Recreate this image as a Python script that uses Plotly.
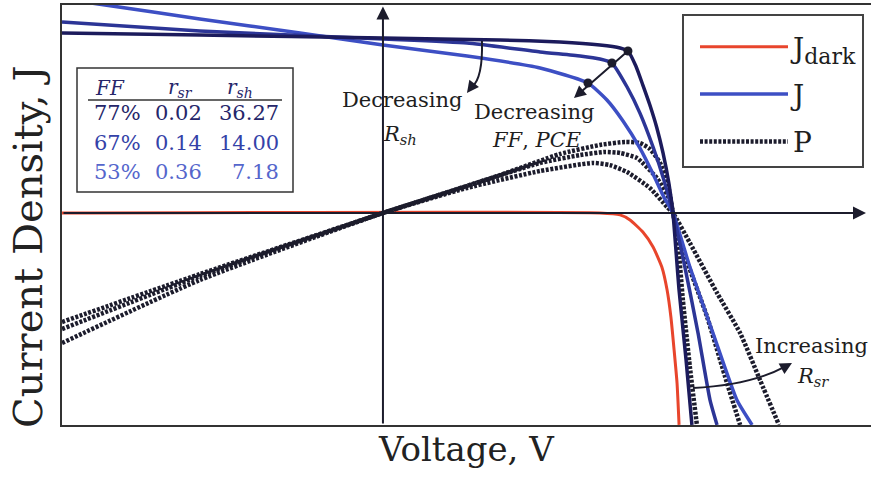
import plotly.graph_objects as go

# Normalised units: voltage V / Voc, current density J / Jsc (power P on same vertical scale)
v_dark = [-1.099, 0.743, 0.812, 0.846, 0.890, 0.925, 0.955, 0.973, 0.986, 0.997, 1.007, 1.014]
j_dark = [0.0, 0.0, -0.011, -0.040, -0.109, -0.194, -0.309, -0.440, -0.594, -0.783, -0.971, -1.211]

v_j77 = [-1.099, -0.627, 0.0, 0.401, 0.606, 0.743, 0.812, 0.839, 0.866, 0.890, 0.914, 0.938, 0.959, 0.979, 0.993, 1.014, 1.038, 1.058]
j_j77 = [1.029, 1.017, 1.000, 0.989, 0.977, 0.960, 0.943, 0.926, 0.840, 0.731, 0.617, 0.486, 0.343, 0.171, 0.0, -0.440, -0.840, -1.211]

v_j67 = [-1.099, -0.627, 0.0, 0.288, 0.538, 0.675, 0.743, 0.784, 0.836, 0.880, 0.925, 0.962, 0.993, 1.034, 1.079, 1.120, 1.144]
j_j67 = [1.091, 1.040, 0.994, 0.971, 0.920, 0.897, 0.880, 0.857, 0.720, 0.571, 0.377, 0.189, 0.0, -0.309, -0.686, -1.069, -1.211]

v_j53 = [-1.099, -0.952, -0.627, -0.284, 0.0, 0.288, 0.538, 0.702, 0.767, 0.822, 0.880, 0.925, 0.962, 0.993, 1.051, 1.130, 1.212, 1.264]
j_j53 = [1.223, 1.189, 1.109, 1.029, 0.960, 0.897, 0.829, 0.743, 0.646, 0.526, 0.371, 0.223, 0.091, 0.0, -0.309, -0.686, -1.069, -1.211]

v_p77 = [-1.099, -0.627, 0.0, 0.401, 0.606, 0.743, 0.829, 0.880, 0.914, 0.949, 0.976, 0.993, 1.007, 1.027, 1.051, 1.075]
p_p77 = [-0.623, -0.349, 0.0, 0.217, 0.337, 0.389, 0.406, 0.400, 0.366, 0.286, 0.160, 0.0, -0.114, -0.497, -0.880, -1.211]

v_p67 = [-1.099, -0.627, 0.0, 0.288, 0.538, 0.675, 0.760, 0.812, 0.870, 0.938, 0.983, 0.993, 1.027, 1.110, 1.178, 1.223]
p_p67 = [-0.663, -0.360, 0.0, 0.154, 0.286, 0.331, 0.349, 0.343, 0.314, 0.200, 0.074, 0.0, -0.211, -0.594, -0.971, -1.211]

v_p53 = [-1.099, -0.627, 0.0, 0.288, 0.538, 0.719, 0.777, 0.836, 0.914, 0.973, 0.993, 1.051, 1.144, 1.223, 1.291, 1.356]
p_p53 = [-0.743, -0.383, 0.0, 0.143, 0.240, 0.286, 0.274, 0.234, 0.143, 0.034, 0.0, -0.171, -0.457, -0.686, -0.954, -1.211]

# maximum power points
v_mpp = [0.839, 0.784, 0.702]
j_mpp = [0.926, 0.857, 0.743]

# inset table
ff_vals = ["77%", "67%", "53%"]
rsr_vals = ["0.02", "0.14", "0.36"]
rsh_vals = ["36.27", "14.00", "7.18"]
row_colors = ["#26266a", "#3442a8", "#5566cc"]

X_RANGE = [-1.099, 1.6712]
Y_RANGE = [-1.2114, 1.1886]

SERIF = "DejaVu Serif"
INK = "#1c1c2c"
C_DARK = "#e8452c"
C_77 = "#1c1b5c"
C_67 = "#2c3596"
C_53 = "#3d4fc4"
P_DASH = "3px,1.6px"

fig = go.Figure()
line_shape = dict(shape="spline", smoothing=0.5)

fig.add_trace(go.Scatter(x=v_dark, y=j_dark, mode="lines",
                         name="J<sub><span style='font-size:22px'>dark</span></sub>",
                         line=dict(color=C_DARK, width=3, **line_shape),
                         legendgroup="a", legendrank=1))
fig.add_trace(go.Scatter(x=v_p77, y=p_p77, mode="lines", name="P",
                         line=dict(color=INK, width=4.5, dash=P_DASH, **line_shape),
                         legendgroup="c", legendrank=3))
fig.add_trace(go.Scatter(x=v_p67, y=p_p67, mode="lines", showlegend=False,
                         line=dict(color=INK, width=4.5, dash=P_DASH, **line_shape)))
fig.add_trace(go.Scatter(x=v_p53, y=p_p53, mode="lines", showlegend=False,
                         line=dict(color=INK, width=4.5, dash=P_DASH, **line_shape)))
fig.add_trace(go.Scatter(x=v_j53, y=j_j53, mode="lines", name="J",
                         line=dict(color=C_53, width=3.5, **line_shape),
                         legendgroup="b", legendrank=2))
fig.add_trace(go.Scatter(x=v_j67, y=j_j67, mode="lines", showlegend=False,
                         line=dict(color=C_67, width=3.5, **line_shape)))
fig.add_trace(go.Scatter(x=v_j77, y=j_j77, mode="lines", showlegend=False,
                         line=dict(color=C_77, width=3.5, **line_shape)))
fig.add_trace(go.Scatter(x=v_mpp, y=j_mpp, mode="markers", showlegend=False,
                         marker=dict(color=INK, size=9)))


def vx(p):
    return (p - 383) / 292


def jy(p):
    return (213 - p) / 175


ann = []
# axes arrows
ann.append(dict(x=0, y=1.18, ax=0, ay=Y_RANGE[0], xref="x", yref="y", axref="x", ayref="y",
                text="", showarrow=True, arrowhead=2, arrowsize=1.3, arrowwidth=2, arrowcolor=INK))
ann.append(dict(x=1.654, y=0, ax=X_RANGE[0], ay=0, xref="x", yref="y", axref="x", ayref="y",
                text="", showarrow=True, arrowhead=2, arrowsize=1.3, arrowwidth=2, arrowcolor=INK))
# straight FF/PCE arrow through the maximum power points
ann.append(dict(x=vx(574), y=jy(98), ax=v_mpp[0], ay=j_mpp[0], xref="x", yref="y", axref="x", ayref="y",
                text="", showarrow=True, arrowhead=2, arrowsize=1.2, arrowwidth=2, arrowcolor=INK))
# heads of the curved arrows (pixel offsets for tails)
ann.append(dict(x=vx(467), y=jy(93), ax=6, ay=-8, xref="x", yref="y",
                text="", showarrow=True, arrowhead=2, arrowsize=1.2, arrowwidth=2, arrowcolor=INK))
ann.append(dict(x=vx(792), y=jy(363), ax=-9, ay=5, xref="x", yref="y",
                text="", showarrow=True, arrowhead=2, arrowsize=1.2, arrowwidth=2, arrowcolor=INK))


def txt(x, y, s, size, xanchor="center", color="#1e1e1e", xref="x", yref="y", angle=0):
    return dict(x=x, y=y, xref=xref, yref=yref, text=s, showarrow=False, xanchor=xanchor,
                yanchor="middle", textangle=angle, font=dict(family=SERIF, size=size, color=color))


ann.append(txt(vx(402), jy(100), "Decreasing", 21))
ann.append(txt(vx(400), jy(135), "<i>R</i><sub><i>sh</i></sub>", 21))
ann.append(txt(vx(534), jy(112), "Decreasing", 21))
ann.append(txt(vx(537), jy(140), "<i>FF</i>, <i>PCE</i>", 21))
ann.append(txt(vx(811), jy(346), "Increasing", 21))
ann.append(txt(vx(813), jy(377), "<i>R</i><sub><i>sr</i></sub>", 21))

# axis titles
ann.append(txt(0.5, -0.057, "Voltage, V", 34, xref="paper", yref="paper", color="#222222"))
ann.append(txt(-0.042, 0.424, "Current Density, J", 40, xref="paper", yref="paper",
               color="#222222", angle=-90))


# inset table (paper coords)
def px(xp):
    return (xp - 62) / 809


def py(yp):
    return (425 - yp) / 420


head_y = py(88)
ann.append(txt(px(110), head_y, "<i>FF</i>", 20, xref="paper", yref="paper", color=row_colors[0]))
ann.append(txt(px(180), head_y, "<i>r</i><sub><i>sr</i></sub>", 20, xref="paper", yref="paper", color=row_colors[0]))
ann.append(txt(px(240), head_y, "<i>r</i><sub><i>sh</i></sub>", 20, xref="paper", yref="paper", color=row_colors[0]))
row_y = [113, 143, 172]
for i in range(3):
    ann.append(txt(px(92), py(row_y[i]), ff_vals[i], 21, xanchor="left", xref="paper", yref="paper", color=row_colors[i]))
    ann.append(txt(px(178), py(row_y[i]), rsr_vals[i], 21, xref="paper", yref="paper", color=row_colors[i]))
    ann.append(txt(px(281), py(row_y[i]), rsh_vals[i], 21, xanchor="right", xref="paper", yref="paper", color=row_colors[i]))

shapes = [
    dict(type="rect", xref="paper", yref="paper", x0=px(77), x1=px(293), y0=py(192), y1=py(68),
         line=dict(color="#333333", width=1.5), fillcolor="white", layer="below"),
    dict(type="line", xref="paper", yref="paper", x0=px(88), x1=px(282), y0=py(100), y1=py(100),
         line=dict(color="#333333", width=1.5)),
    dict(type="rect", xref="paper", yref="paper", x0=px(683), x1=px(863), y0=py(167), y1=py(15),
         line=dict(color="#444444", width=2), fillcolor="white", layer="below"),
    # curved arrow shafts
    dict(type="path", xref="x", yref="y",
         path=f"M {vx(482)},{jy(41)} Q {vx(483)},{jy(78)} {vx(472)},{jy(87)}",
         line=dict(color=INK, width=2)),
    dict(type="path", xref="x", yref="y",
         path=f"M {vx(693)},{jy(388)} Q {vx(751)},{jy(385)} {vx(784)},{jy(367)}",
         line=dict(color=INK, width=2)),
]

fig.update_layout(
    width=871, height=477,
    margin=dict(l=62, r=0, t=5, b=52),
    paper_bgcolor="white", plot_bgcolor="rgba(0,0,0,0)",
    xaxis=dict(range=X_RANGE, showgrid=False, zeroline=False, showticklabels=False, ticks="",
               showline=True, mirror=True, linecolor="#333333", linewidth=2),
    yaxis=dict(range=Y_RANGE, showgrid=False, zeroline=False, showticklabels=False, ticks="",
               showline=True, mirror=False, linecolor="#333333", linewidth=2),
    legend=dict(x=px(695), y=py(22), xanchor="left", yanchor="top", bgcolor="rgba(0,0,0,0)",
                borderwidth=0, itemwidth=88, traceorder="grouped", tracegroupgap=8,
                font=dict(family=SERIF, size=28, color="#1e1e1e")),
    annotations=ann, shapes=shapes, showlegend=True,
)

fig.write_html("out.html")
